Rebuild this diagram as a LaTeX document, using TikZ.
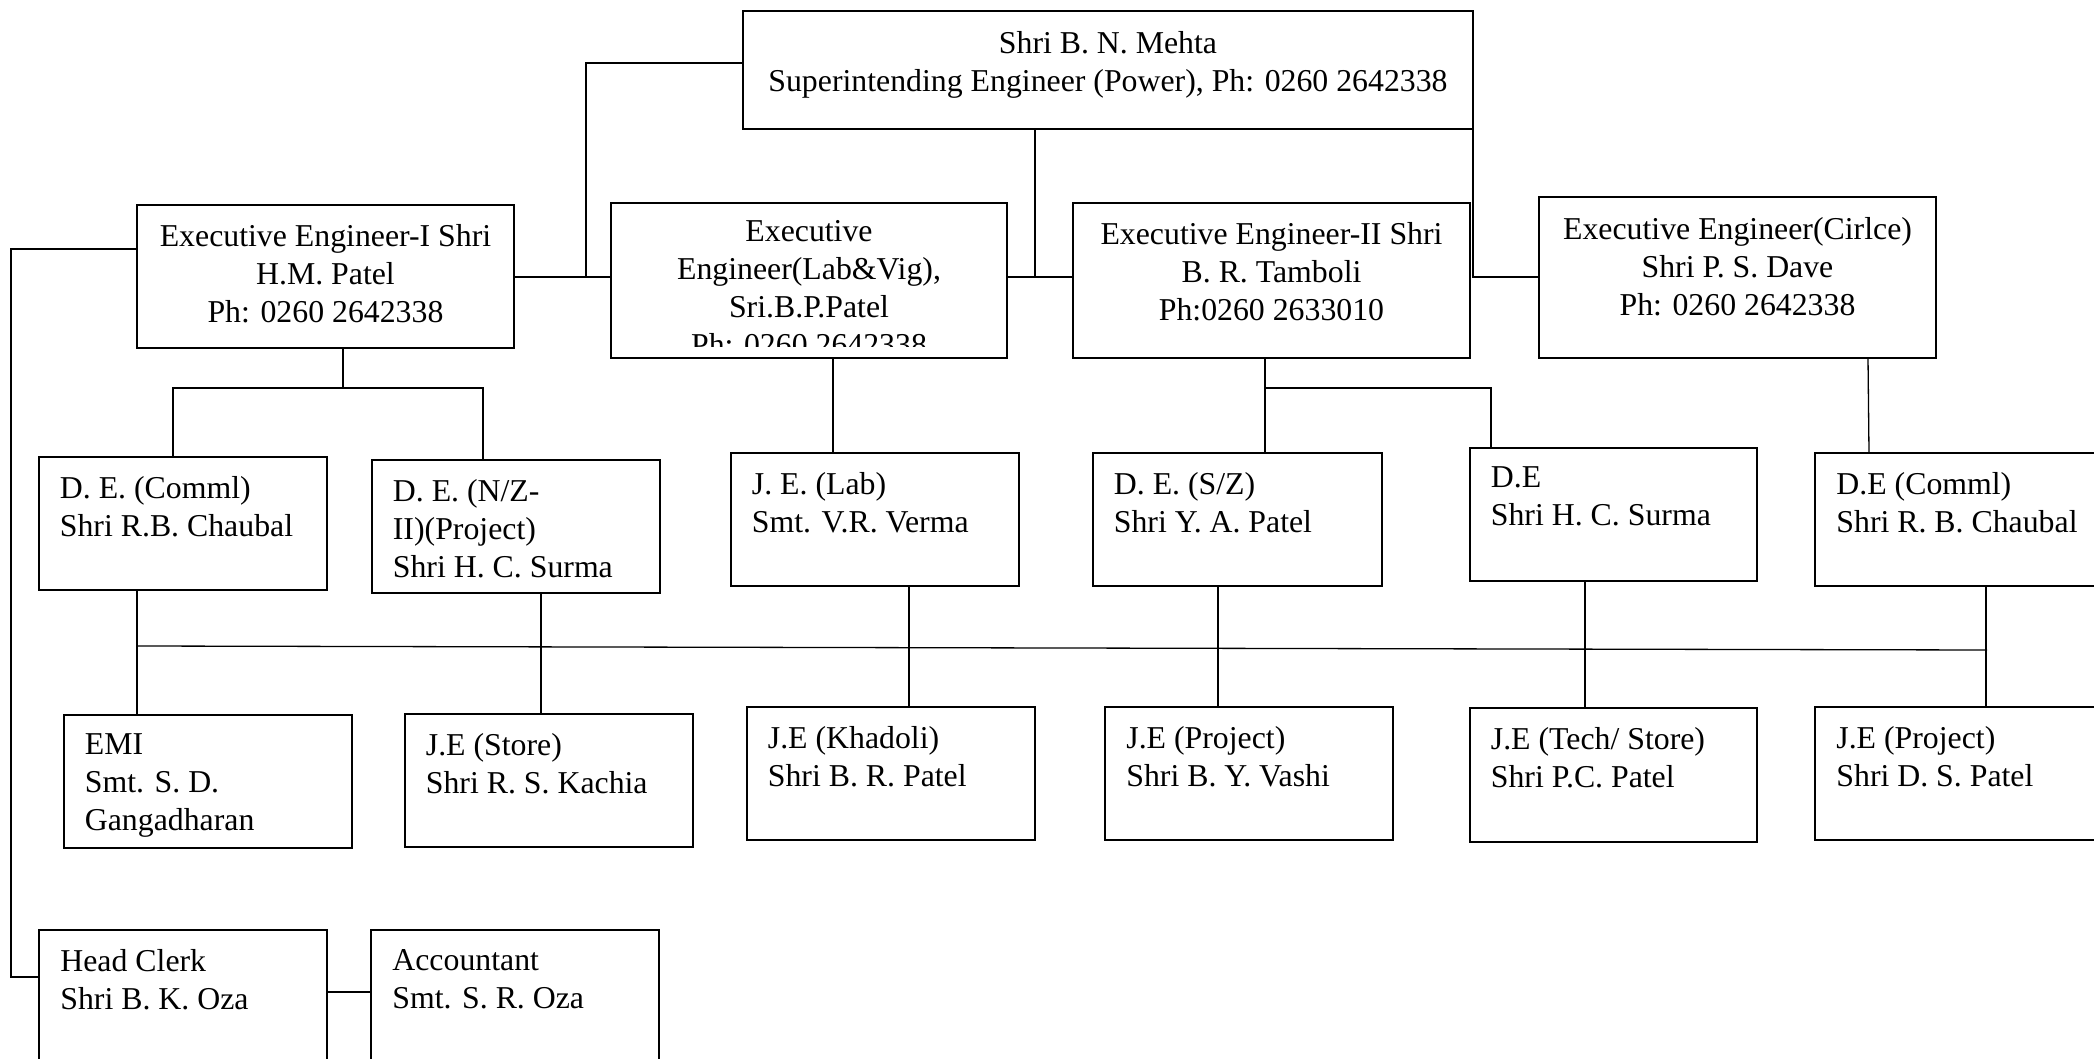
\documentclass[tikz,border=0pt]{standalone}
\usepackage{fontspec}
\setmainfont{Liberation Serif}
\newcommand\orgfont{\fontsize{15.9}{19}\selectfont}
\newcommand\orgbox[5]{\node[box,minimum width=#4,minimum height=#5] (#1) at (#2,#3) {};}
\begin{document}
\begin{tikzpicture}[x=0.5pt,y=-0.5pt,
  box/.style={draw,line width=0.8pt,rectangle,inner sep=0pt,outer sep=0pt,anchor=north west},
  lt/.style={font=\orgfont,align=left,inner sep=0pt,anchor=north west,execute at begin node=\strut},
  ct/.style={font=\orgfont,align=center,inner sep=0pt,anchor=north,execute at begin node=\strut},
  conn/.style={line width=0.65pt}]
\useasboundingbox (0,0) rectangle (2094,1059);
\clip (0,0) rectangle (2094,1059);
% boxes
\orgbox{mehta}{743}{11}{365pt}{59pt}
\orgbox{ee1}{137}{205}{188.5pt}{71.5pt}
\orgbox{lab}{611}{203}{198pt}{77.5pt}
\orgbox{ee2}{1073}{203}{198.5pt}{77.5pt}
\orgbox{circ}{1539}{197}{198.5pt}{80.5pt}
\orgbox{dec}{39}{457}{144pt}{66.5pt}
\orgbox{denz}{372}{460}{144pt}{66.5pt}
\orgbox{jelab}{731}{453}{144pt}{66.5pt}
\orgbox{desz}{1093}{453}{144.5pt}{66.5pt}
\orgbox{des}{1470}{448}{143.5pt}{66.5pt}
\orgbox{decr}{1815}{453}{144pt}{66.5pt}
\orgbox{emi}{64}{715}{144pt}{66.5pt}
\orgbox{jes}{405}{714}{144pt}{66.5pt}
\orgbox{jek}{747}{707}{144pt}{66.5pt}
\orgbox{jev}{1105}{707}{144pt}{66.5pt}
\orgbox{jet}{1470}{708}{143.5pt}{67pt}
\orgbox{jep}{1815}{707}{144pt}{66.5pt}
\orgbox{hc}{39}{930}{144pt}{66.5pt}
\orgbox{acc}{371}{930}{144pt}{66.5pt}
% centred texts
\node[ct] (mehtat) at ([yshift=-9.8pt]mehta.north) {Shri B. N. Mehta\\Superintending Engineer (Power), Ph: 0260 2642338};
\node[ct] (ee1t) at ([yshift=-9.3pt]ee1.north) {Executive Engineer-I Shri\\H.M. Patel\\Ph: 0260 2642338};
\begin{scope}
\clip (lab.north west) rectangle (lab.east |- 0,347);
\node[ct] (labt) at ([yshift=-8.3pt]lab.north) {Executive\\Engineer(Lab\&Vig),\\Sri.B.P.Patel\\Ph: 0260 2642338};
\end{scope}
\node[ct] (ee2t) at ([yshift=-9.3pt]ee2.north) {Executive Engineer-II Shri\\B. R. Tamboli\\Ph:0260 2633010};
\node[ct] (circt) at ([yshift=-9.8pt]circ.north) {Executive Engineer(Cirlce)\\Shri P. S. Dave\\Ph: 0260 2642338};
% left texts
\node[lt] (dect) at ([xshift=10.25pt,yshift=-9.3pt]dec.north west) {D. E. (Comml)\\Shri R.B. Chaubal};
\node[lt] (denzt) at ([xshift=10.25pt,yshift=-9.3pt]denz.north west) {D. E. (N/Z-\\II)(Project)\\Shri H. C. Surma};
\node[lt] (jelabt) at ([xshift=10.25pt,yshift=-9.3pt]jelab.north west) {J. E. (Lab)\\Smt. V.R. Verma};
\node[lt] (deszt) at ([xshift=10.25pt,yshift=-9.3pt]desz.north west) {D. E. (S/Z)\\Shri Y. A. Patel};
\node[lt] (dest) at ([xshift=10.25pt,yshift=-9.3pt]des.north west) {D.E\\Shri H. C. Surma};
\node[lt] (decrt) at ([xshift=10.5pt,yshift=-9.3pt]decr.north west) {D.E (Comml)\\Shri R. B. Chaubal};
\node[lt] (emit) at ([xshift=10.25pt,yshift=-9.3pt]emi.north west) {EMI\\Smt. S. D.\\Gangadharan};
\node[lt] (jest) at ([xshift=10.25pt,yshift=-9.3pt]jes.north west) {J.E (Store)\\Shri R. S. Kachia};
\node[lt] (jekt) at ([xshift=10.25pt,yshift=-9.3pt]jek.north west) {J.E (Khadoli)\\Shri B. R. Patel};
\node[lt] (jevt) at ([xshift=10.5pt,yshift=-9.3pt]jev.north west) {J.E (Project)\\Shri B. Y. Vashi};
\node[lt] (jett) at ([xshift=10.25pt,yshift=-9.3pt]jet.north west) {J.E (Tech/ Store)\\Shri P.C. Patel};
\node[lt] (jept) at ([xshift=10.5pt,yshift=-9.3pt]jep.north west) {J.E (Project)\\Shri D. S. Patel};
\node[lt] (hct) at ([xshift=10.5pt,yshift=-9.3pt]hc.north west) {Head Clerk\\Shri B. K. Oza};
\node[lt] (acct) at ([xshift=10.5pt,yshift=-9.3pt]acc.north west) {Accountant\\Smt. S. R. Oza};
% junction coordinates
\coordinate (jA) at (586,277);
\coordinate (jB) at (1035,277);
\coordinate (jC) at (1473,277);
\coordinate (jD1) at (11,249);
\coordinate (jD2) at (11,977);
\coordinate (jE) at (343,388);
\coordinate (jE1) at (173,388);
\coordinate (jE2) at (483,388);
\coordinate (jF) at (1265,388);
\coordinate (jF2) at (1491,388);
\coordinate (bar1) at (137,646);
\coordinate (bar2) at (1987,650);
% connectors
\draw[conn] (ee1.east |- jA) -- (lab.west |- jA);
\draw[conn] (mehta.west |- 0,63) -| (jA);
\draw[conn] (lab.east |- jB) -- (ee2.west |- jB);
\draw[conn] (mehta.south -| jB) -- (jB);
\draw[conn] (mehta.south east) -- (jC) -- (circ.west |- jC);
\draw[conn] (ee1.west |- jD1) -- (jD1) -- (jD2) -- (hc.west |- jD2);
\draw[conn] (hc.east |- 0,992) -- (acc.west |- 0,992);
\draw[conn] (ee1.south -| jE) -- (jE);
\draw[conn] (dec.north -| jE1) -- (jE1) -- (jE2) -- (denz.north -| jE2);
\draw[conn] (lab.south -| 833,0) -- (jelab.north -| 833,0);
\draw[conn] (ee2.south -| jF) -- (jF) -- (desz.north -| jF);
\draw[conn] (jF) -- (jF2) -- (des.north -| jF2);
\draw[conn] (circ.south -| 1868,0) -- (decr.north -| 1869,0);
\draw[conn] (dec.south -| bar1) -- (emi.north -| bar1);
\draw[conn] (bar1) -- (bar2);
\draw[conn] (denz.south -| 541,0) -- (jes.north -| 541,0);
\draw[conn] (jelab.south -| 909,0) -- (jek.north -| 909,0);
\draw[conn] (desz.south -| 1218,0) -- (jev.north -| 1218,0);
\draw[conn] (des.south -| 1585,0) -- (jet.north -| 1585,0);
\draw[conn] (decr.south -| 1986,0) -- (jep.north -| 1986,0);
\end{tikzpicture}
\end{document}
